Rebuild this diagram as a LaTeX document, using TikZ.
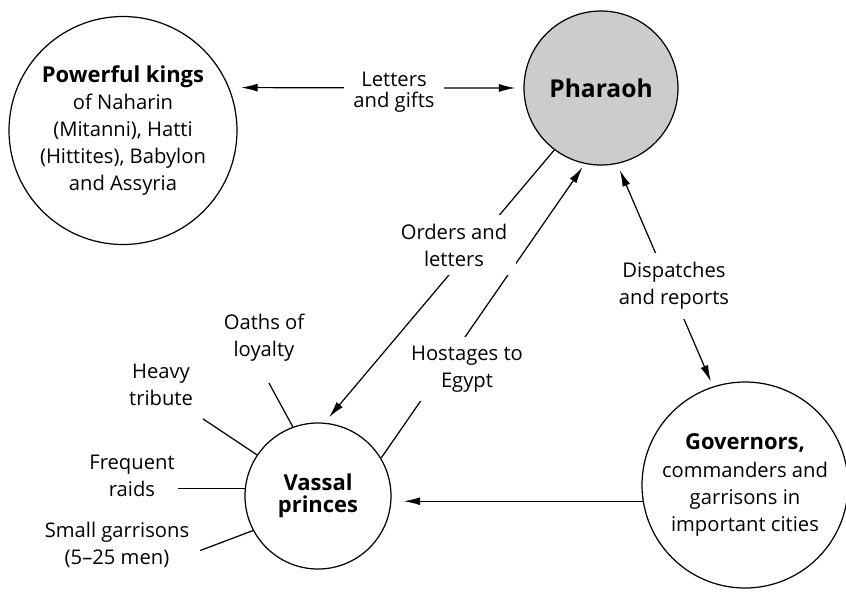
\documentclass[tikz,border=0pt]{standalone}
\usepackage{fontspec}
\setmainfont{Open Sans}
\usetikzlibrary{arrows.meta}
\newcommand\hd[1]{{\fontsize{12.5}{15.4}\selectfont\bfseries #1}}
\tikzset{
  party/.style={circle,draw,align=center,inner sep=0pt},
  msg/.style={fill=white,align=center,inner sep=.18cm},
  aside/.style={align=center,inner sep=1pt},
}
\begin{document}
\begin{tikzpicture}[>={Latex[length=3.3mm,width=1.6mm]},line width=.7pt,
    font=\fontsize{11.5}{15.4}\selectfont]
  \useasboundingbox (0,0) rectangle (16.92,11.82);
  % The four parties of the letters.
  \node[party,minimum size=4.56cm] (kings) at (2.46,9.21)
    {\hd{Powerful kings}\\of Naharin\\(Mitanni), Hatti\\(Hittites), Babylon\\and Assyria};
  \node[party,fill=black!20,minimum size=3.08cm,
    font=\fontsize{14}{16}\selectfont\bfseries] (pharaoh) at (12.02,10.06) {Pharaoh};
  \node[party,minimum size=2.92cm,font=\fontsize{12.5}{12.5}\selectfont\bfseries]
    (vassal) at (6.36,1.90) {Vassal\\princes};
  \node[party,minimum size=4.12cm] (gov) at (14.90,2.12)
    {\hd{Governors,}\\commanders and\\garrisons in\\important cities};
  % Traffic between them; the labels sit on the lines and break them.
  \draw[<->,shorten <=6.8pt,shorten >=4.6pt] (kings.22) -- (pharaoh.west);
  \draw[->,shorten >=4pt] (pharaoh.233) -- (vassal.85);
  \draw[->,shorten >=2.3pt] (vassal.31) -- (pharaoh.258);
  \draw[<->,shorten <=3.8pt,shorten >=3pt] (pharaoh.282) -- (gov.108);
  \draw[->,shorten >=6.9pt] (gov.189) -- (gov.189 -| vassal.east);
  \node[msg,font=\fontsize{11.5}{12}\selectfont] (gifts) at (7.88,9.98) {Letters\\and gifts};
  \node[msg] (orders) at (9.08,6.92) {Orders and\\letters};
  \node[msg] (hostages) at (9.34,4.44) {Hostages to\\Egypt};
  \node[msg] (reports) at (13.48,6.10) {Dispatches\\and reports};
  % Burdens on the vassals.
  \foreach \a/\d/\l/\n in {110/118.6/1.0/oaths,146/146.3/1.3/tribute,
      174/180/1.34/raids,208/200.7/1.13/garrisons} {
    \draw (vassal.\a) -- ++(\d:\l) coordinate (\n);
  }
  \node[aside] (oathslbl) at (5.28,5.06) {Oaths of\\loyalty};
  \node[aside] (tributelbl) at (3.22,4.12) {Heavy\\tribute};
  \node[aside] (raidslbl) at (2.64,2.30) {Frequent\\raids};
  \node[aside] (garrisonslbl) at (2.34,0.92) {Small garrisons\\(5--25 men)};
\end{tikzpicture}
\end{document}
